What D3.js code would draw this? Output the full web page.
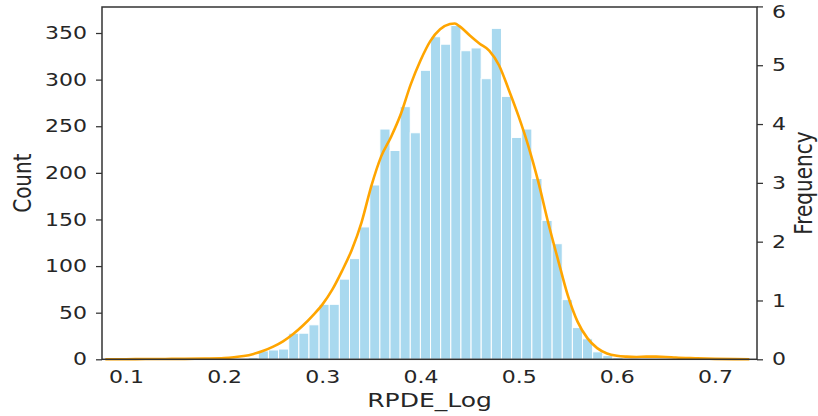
<!DOCTYPE html>
<html><head><meta charset="utf-8">
<script src="https://cdn.jsdelivr.net/npm/d3@7/dist/d3.min.js"></script>
<style>body{margin:0;background:#fff}</style>
</head><body>
<svg id="c" width="818" height="416"></svg>
<script>
// ---- data ----
const counts = [2, 9, 10, 11, 28, 28, 37, 59, 59, 86, 108, 142, 187, 247, 224, 271, 243, 310, 346, 338, 358, 331, 334, 301, 355, 282, 238, 247, 194, 149, 124, 64, 34, 22, 8, 4, 2];
const binStart = 0.2245;
const binWidth = 0.01032;
const kdeX = [0.079, 0.10, 0.12, 0.14, 0.16, 0.18, 0.20, 0.21, 0.22, 0.23, 0.24, 0.25, 0.26, 0.27, 0.28, 0.29, 0.30, 0.31, 0.32, 0.33, 0.34, 0.35, 0.36, 0.37, 0.38, 0.39, 0.40, 0.41, 0.42, 0.43, 0.435, 0.44, 0.45, 0.46, 0.47, 0.48, 0.49, 0.50, 0.51, 0.52, 0.53, 0.54, 0.55, 0.56, 0.57, 0.58, 0.59, 0.60, 0.61, 0.62, 0.63, 0.64, 0.65, 0.66, 0.68, 0.70, 0.72, 0.735];
const kdeY = [0.001, 0.002, 0.004, 0.006, 0.008, 0.013, 0.022, 0.035, 0.056, 0.092, 0.145, 0.215, 0.305, 0.425, 0.57, 0.74, 0.93, 1.18, 1.50, 1.86, 2.33, 2.95, 3.45, 3.78, 4.17, 4.67, 5.08, 5.41, 5.61, 5.70, 5.71, 5.66, 5.51, 5.37, 5.25, 5.00, 4.58, 4.13, 3.62, 3.02, 2.33, 1.70, 1.09, 0.64, 0.36, 0.19, 0.10, 0.06, 0.045, 0.04, 0.045, 0.045, 0.04, 0.03, 0.018, 0.008, 0.003, 0.001];
const xTicks = [0.1, 0.2, 0.3, 0.4, 0.5, 0.6, 0.7];
const countTicks = [0, 50, 100, 150, 200, 250, 300, 350];
const freqTicks = [0, 1, 2, 3, 4, 5, 6];
const xLabel = "RPDE_Log", yLabel = "Count", y2Label = "Frequency";

// ---- layout ----
const L = 102, R = 757, T = 7, B = 359.3;
const svg = d3.select("#c");
const x = d3.scaleLinear().domain([0.0756, 0.7428]).range([L, R]);
const y = d3.scaleLinear().domain([0, 377.9]).range([B, T]);
const y2 = d3.scaleLinear().domain([0, 5.99]).range([B, T]);
const ink = "#333333", txt = "#262626";

// bars
svg.append("g").selectAll("rect").data(counts).join("rect")
  .attr("x", (d, i) => x(binStart + i * binWidth))
  .attr("width", (d, i) => x(binStart + (i + 1) * binWidth) - x(binStart + i * binWidth))
  .attr("y", d => y(d))
  .attr("height", d => B - y(d))
  .attr("fill", "#a9d9ef")
  .attr("stroke", "#ffffff")
  .attr("stroke-width", 1);

// kde
const pts = kdeX.map((v, i) => [v, kdeY[i]]);
svg.append("path")
  .attr("d", d3.line().x(d => x(d[0])).y(d => y2(d[1])).curve(d3.curveMonotoneX)(pts))
  .attr("fill", "none").attr("stroke", "#ffa500").attr("stroke-width", 2.6);

// axes
const fs = 22;
const gl = svg.append("g").attr("transform", `translate(${L},0)`)
  .call(d3.axisLeft(y).tickValues(countTicks).tickFormat(d3.format("d")).tickSize(6).tickSizeOuter(0).tickPadding(9));
const gr = svg.append("g").attr("transform", `translate(${R},0)`)
  .call(d3.axisRight(y2).tickValues(freqTicks).tickFormat(d3.format("d")).tickSize(6).tickSizeOuter(0).tickPadding(9));
const gb = svg.append("g").attr("transform", `translate(0,${B})`)
  .call(d3.axisBottom(x).tickValues(xTicks).tickFormat(d3.format(".1f")).tickSize(0).tickSizeOuter(0));
[gl, gr, gb].forEach(g => {
  g.select(".domain").remove();
  g.selectAll(".tick line").attr("stroke", ink).attr("stroke-width", 1.25);
  g.selectAll(".tick text").attr("fill", txt).style("font-family", "DejaVu Sans").style("font-size", fs + "px");
});
gl.selectAll(".tick text").attr("transform", "scale(1,0.8)");
gr.selectAll(".tick text").attr("transform", d => d === 6 ? "translate(0,5) scale(1,0.8)" : "scale(1,0.8)");
gb.selectAll(".tick text").attr("y", 30).attr("dy", 0).attr("transform", "scale(1,0.8)");

// frame
svg.append("rect").attr("x", L).attr("y", T).attr("width", R - L).attr("height", B - T)
  .attr("fill", "none").attr("stroke", ink).attr("stroke-width", 1.5);

// axis labels
const lf = 25;
svg.append("text").attr("transform", `translate(${(L + R) / 2},407) scale(1,0.8)`)
  .attr("text-anchor", "middle").attr("fill", txt).style("font-family", "DejaVu Sans").style("font-size", lf + "px").text(xLabel);
svg.append("text").attr("transform", `translate(31,${(T + B) / 2}) rotate(-90) scale(0.8,1)`)
  .attr("text-anchor", "middle").attr("fill", txt).style("font-family", "DejaVu Sans").style("font-size", lf + "px").text(yLabel);
svg.append("text").attr("transform", `translate(812,${(T + B) / 2}) rotate(-90) scale(0.8,1)`)
  .attr("text-anchor", "middle").attr("fill", txt).style("font-family", "DejaVu Sans").style("font-size", lf + "px").text(y2Label);
</script>
</body></html>
